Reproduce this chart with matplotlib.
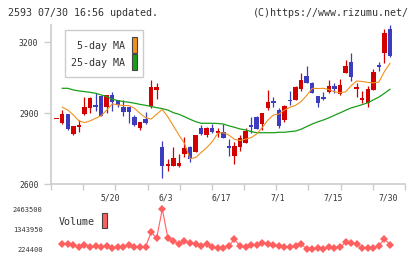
import matplotlib
matplotlib.use('Agg')
import matplotlib.pyplot as plt
import matplotlib.transforms as mtransforms
from matplotlib.patches import Rectangle
import numpy as np

plt.rcParams['font.family'] = ['DejaVu Sans Mono']

# daily candles (yen)
opens = [2877, 2860, 2895, 2812, 2843, 2896, 2920, 2933, 2973, 2925, 2977, 2956, 2925, 2925, 2882, 2839,
         2875, 2930, 2998, 2757, 2678, 2678, 2678, 2728, 2758, 2737, 2836, 2807, 2839, 2817, 2819, 2761,
         2720, 2758, 2775, 2850, 2885, 2853, 2923, 2951, 2913, 2871, 2956, 2956, 3001, 3057, 3029, 2973,
         2970, 2991, 3015, 2981, 3071, 3115, 3001, 2956, 2942, 2998, 3104, 3153, 3256]
highs = [2877, 2913, 2895, 2846, 2871, 2967, 2967, 2984, 2973, 2977, 2991, 2956, 2956, 2925, 2892, 2861,
         2906, 3040, 3026, 2782, 2704, 2758, 2726, 2800, 2761, 2807, 2850, 2843, 2854, 2836, 2853, 2791,
         2779, 2807, 2839, 2885, 2889, 2899, 2998, 2970, 2920, 2935, 2994, 3016, 3069, 3100, 3033, 2973,
         2991, 3040, 3029, 3043, 3125, 3153, 3029, 2995, 3015, 3087, 3118, 3256, 3273]
lows = [2877, 2854, 2829, 2807, 2822, 2892, 2902, 2911, 2889, 2902, 2911, 2925, 2889, 2860, 2846, 2829,
        2853, 2920, 2960, 2627, 2656, 2678, 2673, 2716, 2695, 2737, 2807, 2798, 2815, 2800, 2793, 2720,
        2683, 2741, 2772, 2815, 2831, 2829, 2913, 2925, 2836, 2861, 2935, 2956, 2995, 3026, 2984, 2925,
        2956, 2987, 2984, 2977, 3069, 3038, 2970, 2944, 2927, 2998, 3080, 3114, 3139]
closes = [2877, 2895, 2833, 2846, 2850, 2925, 2963, 2927, 2889, 2977, 2946, 2935, 2906, 2906, 2850, 2861,
          2860, 3009, 3009, 2678, 2685, 2711, 2687, 2754, 2707, 2807, 2813, 2839, 2820, 2824, 2796, 2751,
          2762, 2796, 2824, 2843, 2834, 2899, 2949, 2942, 2846, 2930, 2951, 3012, 3040, 3029, 2987, 2942,
          2961, 3015, 3002, 3019, 3100, 3055, 3012, 2964, 3002, 3073, 3097, 3238, 3143]

ma5 = [2925, 2913, 2892, 2867, 2860, 2867, 2878, 2889, 2913, 2939, 2935, 2932, 2932, 2920, 2899, 2881,
       2875, 2895, 2916, 2884, 2846, 2807, 2772, 2707, 2712, 2733, 2754, 2779, 2815, 2817, 2807, 2789,
       2784, 2790, 2796, 2812, 2839, 2870, 2892, 2896, 2913, 2925, 2933, 2949, 2975, 3005, 3004, 3005,
       3000, 2990, 2986, 2990, 3016, 3036, 3034, 3030, 3028, 3032, 3076, 3111]
ma25 = [3005, 3005, 2998, 2994, 2991, 2988, 2984, 2977, 2970, 2959, 2953, 2949, 2946, 2942, 2937, 2933,
        2928, 2923, 2919, 2913, 2902, 2895, 2885, 2874, 2864, 2857, 2857, 2857, 2856, 2854, 2846, 2840,
        2833, 2829, 2822, 2817, 2817, 2817, 2817, 2819, 2819, 2822, 2824, 2832, 2843, 2854, 2863, 2871,
        2880, 2891, 2901, 2912, 2922, 2929, 2936, 2944, 2956, 2968, 2984, 3001]

volume = [504000, 504000, 448300, 336400, 467000, 355000, 392300, 336400, 411000, 299000, 336400, 355000,
          467000, 336400, 317700, 355000, 1157400, 840100, 2463500, 858800, 690900, 504000, 653600, 560300,
          523000, 373700, 523000, 317700, 280400, 299000, 411000, 765500, 392300, 336400, 467000, 448300,
          560300, 504000, 429600, 373700, 355000, 355000, 411000, 485600, 243100, 224400, 261700, 224400,
          317700, 299000, 317700, 597600, 541600, 504000, 280400, 261700, 280400, 411000, 784200, 467000]

date_labels = ['5/20', '6/3', '6/17', '7/1', '7/15', '7/30']
date_idx = [10, 20, 30, 40, 50, 60]
price_ticks = [2600, 2900, 3200]
vol_ticks = [224400, 1343950, 2463500]

RED = '#d40000'
BLUE = '#3c3cbe'
ORANGE = '#f0901e'
GREEN = '#1a9e1a'
VOLC = '#ff5f5f'
AXC = '#cccccc'
TXT = '#333333'

W, H = 420, 259
fig = plt.figure(figsize=(4.2, 2.59), dpi=100)


def fx(px):
    return px / W


def fy(py):
    return 1 - py / H


ax = fig.add_axes([fx(51), fy(184), fx(405) - fx(51), fy(25) - fy(184)])
idx = np.arange(len(closes))
for i in idx:
    o, c = opens[i], closes[i]
    col = RED if c >= o else BLUE
    ax.vlines(i, lows[i], highs[i], color=col, lw=0.9, zorder=2)
    ax.bar(i, max(abs(c - o), 4), bottom=min(o, c), width=0.8, color=col, lw=0, zorder=3)

ax.plot(idx[1:], ma25, color=GREEN, lw=0.9, zorder=4)
ax.plot(idx[1:], ma5, color=ORANGE, lw=0.8, zorder=4)

ax.set_xlim(-1.03, 62.7)
ax.set_ylim(2600, 3273)
for s in ['top', 'right']:
    ax.spines[s].set_visible(False)
for s in ['left', 'bottom']:
    ax.spines[s].set_color(AXC)
    ax.spines[s].set_linewidth(1.2)
ax.set_xticks(np.linspace(-1.03, 62.7, 12))
ax.set_yticks(price_ticks)
ax.tick_params(axis='x', length=4, width=1, color=AXC, labelbottom=False)
ax.tick_params(axis='y', length=5, width=1, color=AXC, labelsize=5.8, labelcolor=TXT, pad=4)

trans = mtransforms.blended_transform_factory(ax.transData, fig.transFigure)
for lab, i in zip(date_labels, date_idx):
    ax.text(i - 0.3, fy(198), lab, transform=trans, ha='center', va='center', fontsize=5.8, color=TXT)

# volume panel
vax = fig.add_axes([fx(51), fy(253), fx(405) - fx(51), fy(205) - fy(253)])
vpp = (vol_ticks[2] - vol_ticks[0]) / 40.0
vax.plot(idx[1:], volume, color=VOLC, lw=0.8, marker='D', markersize=3.8, markeredgewidth=0)
vax.set_xlim(-1.03, 62.7)
vax.set_ylim(vol_ticks[0] - 4 * vpp, vol_ticks[2] + 4 * vpp)
for s in vax.spines.values():
    s.set_visible(False)
vax.set_xticks([])
vax.set_yticks(vol_ticks)
vax.set_yticklabels([str(v) for v in vol_ticks])
vax.tick_params(axis='y', length=0, labelsize=5.0, labelcolor=TXT, pad=6)

# header texts
fig.text(fx(8), fy(13), '2593 07/30 16:56 updated.', fontsize=7.2, color=TXT, va='center')
fig.text(fx(409), fy(13), '(C)https://www.rizumu.net/', fontsize=7.2, color=TXT, va='center', ha='right')

# price legend
fig.add_artist(Rectangle((fx(65), fy(77)), fx(143) - fx(65), fy(30) - fy(77), transform=fig.transFigure,
                         facecolor='white', edgecolor=AXC, lw=1))
fig.text(fx(125), fy(46), '5-day MA', fontsize=7.2, color=TXT, va='center', ha='right')
fig.text(fx(125), fy(63), '25-day MA', fontsize=7.2, color=TXT, va='center', ha='right')
fig.add_artist(Rectangle((fx(131.7), fy(53)), fx(5), 16 / H, transform=fig.transFigure,
                         facecolor=ORANGE, edgecolor='#444444', lw=0.8))
fig.add_artist(Rectangle((fx(131.7), fy(69.5)), fx(5), 15.5 / H, transform=fig.transFigure,
                         facecolor=GREEN, edgecolor='#444444', lw=0.8))

# volume legend
fig.text(fx(59), fy(222), 'Volume', fontsize=7.2, color=TXT, va='center', ha='left')
fig.add_artist(Rectangle((fx(101.7), fy(228.3)), fx(5.5), 15.3 / H, transform=fig.transFigure,
                         facecolor=VOLC, edgecolor='#444444', lw=0.8))

fig.savefig('out.png', dpi=100)
